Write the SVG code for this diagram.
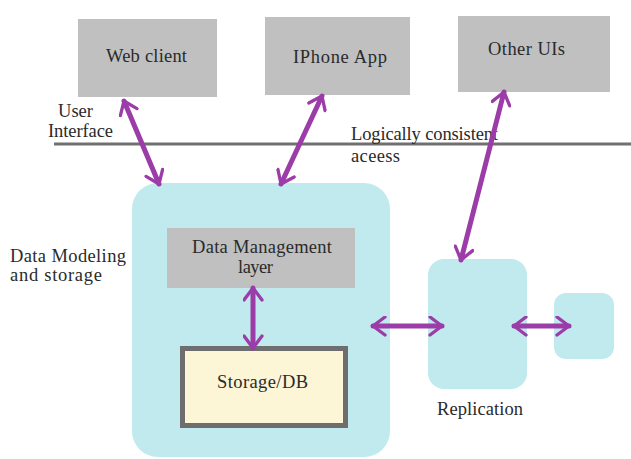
<svg xmlns="http://www.w3.org/2000/svg" width="631" height="459" viewBox="0 0 631 459">
<style>
.t{font-family:"Liberation Serif","Times New Roman",serif;font-size:18.5px;fill:#2a2a2a}
.ui{fill:#c0c0c0}
.cy{fill:#c0eaed}
.c{stroke:#9b3ca8;stroke-width:5;fill:none;stroke-linecap:round}
</style>
<defs>
<marker id="ah" viewBox="0 0 12 14" refX="10" refY="7" markerWidth="3.6" markerHeight="4.2" orient="auto-start-reverse" markerUnits="strokeWidth">
<path d="M2,1 L10,7 L2,13" fill="none" stroke="#9b3ca8" stroke-width="2.2" stroke-linecap="round" stroke-linejoin="round"/>
</marker>
</defs>
<rect width="631" height="459" fill="#fff"/>
<line x1="54" y1="144" x2="631" y2="144" stroke="#707070" stroke-width="3"/>
<text class="t" x="58" y="117" textLength="35">User</text>
<text class="t" x="48" y="137" textLength="65">Interface</text>
<text class="t" x="351" y="140" textLength="147">Logically consistent</text>
<text class="t" x="351" y="162" textLength="49">aceess</text>
<text class="t" x="10" y="262" textLength="116">Data Modeling</text>
<text class="t" x="10" y="281" textLength="92">and storage</text>
<g id="web-client"><rect class="ui" x="78" y="19" width="139" height="78"/><text class="t" x="106" y="62" textLength="81">Web client</text></g>
<g id="iphone-app"><rect class="ui" x="265" y="17" width="145" height="78"/><text class="t" x="293" y="63" textLength="94">IPhone App</text></g>
<g id="other-uis"><rect class="ui" x="458" y="16" width="152" height="76"/><text class="t" x="488" y="55" textLength="77">Other UIs</text></g>
<g id="data-modeling"><rect class="cy" x="132" y="183" width="258" height="274" rx="26"/></g>
<g id="data-management"><rect class="ui" x="167" y="228" width="188" height="60"/><text class="t" x="192" y="253" textLength="140">Data Management</text><text class="t" x="238" y="273" textLength="35">layer</text></g>
<g id="storage-db"><rect x="182.5" y="348.5" width="163" height="77" fill="#fcf5d6" stroke="#6e6e6e" stroke-width="5"/><text class="t" x="217" y="388" textLength="91">Storage/DB</text></g>
<g id="replication"><rect class="cy" x="428" y="259" width="99" height="130" rx="16"/><text class="t" x="437" y="415" textLength="86">Replication</text></g>
<g id="replica"><rect class="cy" x="554" y="293" width="60" height="66" rx="12"/></g>
<g id="connectors">
<line class="c" x1="124" y1="101" x2="159" y2="184" marker-start="url(#ah)" marker-end="url(#ah)"/>
<line class="c" x1="322" y1="96" x2="281" y2="184" marker-start="url(#ah)" marker-end="url(#ah)"/>
<line class="c" x1="504" y1="92" x2="461" y2="260" marker-start="url(#ah)" marker-end="url(#ah)"/>
<line class="c" x1="253" y1="288" x2="253" y2="348" marker-start="url(#ah)" marker-end="url(#ah)"/>
<line class="c" x1="373" y1="326" x2="442" y2="326" marker-start="url(#ah)" marker-end="url(#ah)"/>
<line class="c" x1="514" y1="326" x2="569" y2="326" marker-start="url(#ah)" marker-end="url(#ah)"/>
</g>
</svg>
